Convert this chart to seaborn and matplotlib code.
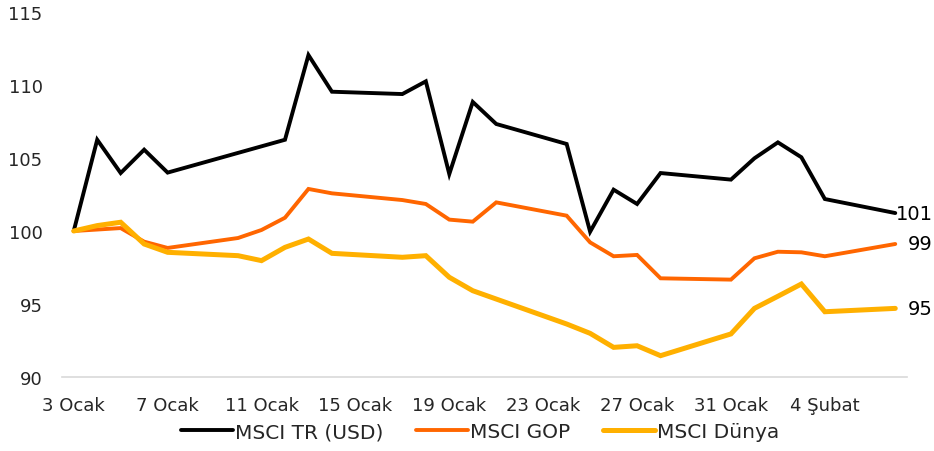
import pandas as pd
import matplotlib
matplotlib.use("Agg")
import matplotlib.pyplot as plt
import seaborn as sns

# --- Data (business days, 2022) ---
DATES = [
    "2022-01-03", "2022-01-04", "2022-01-05", "2022-01-06", "2022-01-07",
    "2022-01-10", "2022-01-11", "2022-01-12", "2022-01-13", "2022-01-14",
    "2022-01-17", "2022-01-18", "2022-01-19", "2022-01-20", "2022-01-21",
    "2022-01-24", "2022-01-25", "2022-01-26", "2022-01-27", "2022-01-28",
    "2022-01-31", "2022-02-01", "2022-02-02", "2022-02-03", "2022-02-04",
    "2022-02-07",
]
MSCI_TR = [
    100.0, 106.25, 103.97, 105.57, 104.0,
    105.35, 105.8, 106.25, 112.05, 109.54,
    109.38, 110.25, 103.9, 108.84, 107.33,
    105.96, 99.95, 102.83, 101.85, 103.97,
    103.52, 104.98, 106.07, 105.05, 102.19,
    101.23,
]
MSCI_GOP = [
    100.0, 100.1, 100.2, 99.27, 98.84,
    99.52, 100.07, 100.91, 102.88, 102.58,
    102.12, 101.85, 100.78, 100.64, 101.96,
    101.05, 99.22, 98.27, 98.36, 96.76,
    96.67, 98.13, 98.58, 98.54, 98.27,
    99.11,
]
MSCI_DUNYA = [
    100.0, 100.37, 100.6, 99.11, 98.54,
    98.31, 97.97, 98.88, 99.45, 98.47,
    98.2, 98.31, 96.83, 95.91, 95.34,
    93.63, 92.99, 92.03, 92.14, 91.46,
    92.95, 94.7, 95.53, 96.37, 94.47,
    94.7,
]
SERIES_NAMES = ["MSCI TR (USD)", "MSCI GOP", "MSCI Dünya"]
END_LABELS = ["101", "99", "95"]
TICK_DATES = ["2022-01-03", "2022-01-07", "2022-01-11", "2022-01-15", "2022-01-19",
              "2022-01-23", "2022-01-27", "2022-01-31", "2022-02-04"]
MONTHS_TR = {1: "Ocak", 2: "Şubat"}
Y_TICKS = [90, 95, 100, 105, 110, 115]

PALETTE = {"MSCI TR (USD)": "#000000", "MSCI GOP": "#FF6600", "MSCI Dünya": "#FFB000"}
WIDTHS = {"MSCI TR (USD)": 2.8, "MSCI GOP": 2.8, "MSCI Dünya": 3.6}

# long-form table for seaborn
dates = pd.to_datetime(DATES)
df = pd.concat([
    pd.DataFrame({"Tarih": dates, "Deger": vals, "Seri": name})
    for name, vals in zip(SERIES_NAMES, [MSCI_TR, MSCI_GOP, MSCI_DUNYA])
], ignore_index=True)

sns.set_style("white")
plt.rcParams["font.family"] = ["DejaVu Sans"]

fig = plt.figure(figsize=(9.34, 4.52), dpi=100)
ax = fig.add_axes([62 / 934, 74 / 452, (907 - 62) / 934, (378 - 13) / 452])

for name in SERIES_NAMES:
    sns.lineplot(data=df[df["Seri"] == name], x="Tarih", y="Deger",
                 color=PALETTE[name], linewidth=WIDTHS[name], label=name, ax=ax,
                 solid_joinstyle="miter", solid_capstyle="round")

# end-of-line value labels
for name, txt in zip(SERIES_NAMES, END_LABELS):
    last = df[df["Seri"] == name].iloc[-1]
    ax.annotate(txt, (last["Tarih"], last["Deger"]), xytext=(27, 0),
                textcoords="offset points", ha="right", va="center",
                fontsize=14, color="black", annotation_clip=False)

ax.set_ylim(90, 115)
ax.set_yticks(Y_TICKS)
ax.set_xlim(dates[0] - pd.Timedelta(hours=12), dates[-1] + pd.Timedelta(hours=12))
ticks = pd.to_datetime(TICK_DATES)
ax.set_xticks(ticks)
ax.set_xticklabels([f"{d.day} {MONTHS_TR[d.month]}" for d in ticks])
ax.tick_params(axis="x", length=0, pad=14, labelsize=13)
ax.tick_params(axis="y", length=0, pad=14, labelsize=13)
ax.set_xlabel("")
ax.set_ylabel("")

for side in ["top", "right", "left"]:
    ax.spines[side].set_visible(False)
ax.spines["bottom"].set_color("#D9D9D9")
ax.spines["bottom"].set_linewidth(1.2)

leg = ax.legend(loc="center", bbox_to_anchor=(480 / 934, 1 - 433 / 452),
                bbox_transform=fig.transFigure, ncol=3, frameon=False,
                fontsize=14.5, handlelength=2.6, handletextpad=0.1,
                columnspacing=1.6)

fig.savefig("out.png", dpi=100)
